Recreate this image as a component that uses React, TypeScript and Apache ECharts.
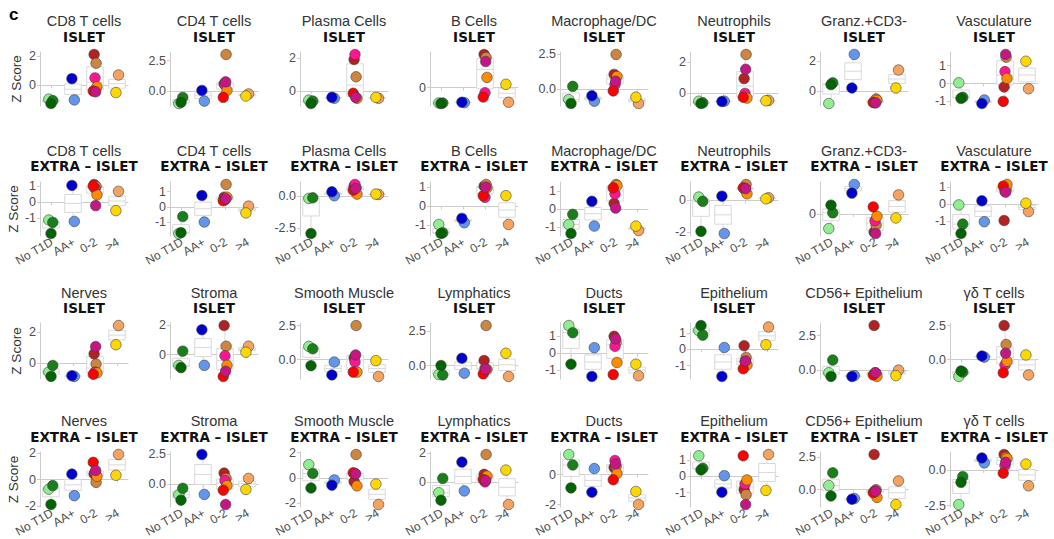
import React, { useEffect, useRef } from "react";
import * as echarts from "echarts";

// ---- categories / labels ----
const groupLabels = ["No T1D", "AA+", "0-2", ">4"];
// donor order: lightgreen, green, darkgreen | cornflower, mediumblue | firebrick, peru, deeppink, darkorange, red, mediumvioletred | sandybrown, gold
const donorGroup = [0, 0, 0, 1, 1, 2, 2, 2, 2, 2, 2, 3, 3];
const donorColors = ["#90EE90", "#1a7f1a", "#006400", "#6495ED", "#0000CD", "#B22222", "#CD853F", "#FF1493", "#FF8C00", "#FF0000", "#C71585", "#F4A460", "#FFD700"];
const donorJitter = [-0.1, 0.08, 0.0, 0.06, -0.05, -0.04, 0.05, 0.0, 0.09, -0.08, 0.03, 0.07, -0.05];

const row1Cells = ["CD8 T cells", "CD4 T cells", "Plasma Cells", "B Cells", "Macrophage/DC", "Neutrophils", "Granz.+CD3-", "Vasculature"];
const row3Cells = ["Nerves", "Stroma", "Smooth Muscle", "Lymphatics", "Ducts", "Epithelium", "CD56+ Epithelium", "γδ T cells"];
const regionLabels = ["ISLET", "EXTRA – ISLET"];

// ---- values (Z scores) per panel ----
const cd8Islet = [-0.95, -1.05, -1.25, -1.0, 0.45, 2.1, 1.5, 0.5, -0.1, -0.4, -0.45, 0.7, -0.5];
const cd4Islet = [-1.05, -0.55, -0.95, -0.85, 0.03, 0.57, 3.0, 0.5, 0.03, -0.54, 0.74, -0.26, -0.43];
const plasmaIslet = [-0.57, -0.63, -0.78, -0.46, -0.4, 1.92, 0.86, 2.23, -0.46, -0.15, -0.4, -0.46, -0.4];
const bIslet = [-0.82, -0.82, -0.85, -0.8, -0.78, 1.78, 1.62, -0.27, 0.55, -0.5, 1.4, -0.78, 0.18];
const macroIslet = [-0.78, 0.18, -1.07, -0.9, -0.5, 1.05, 2.5, 0.3, 0.9, -0.15, 0.55, -1.07, -0.6];
const neutroIslet = [-0.5, -0.6, -0.65, -0.5, -0.52, 0.95, 2.5, 0.0, -0.3, -0.25, 1.55, -0.45, -0.47];
const granzIslet = [-0.87, 0.54, 0.42, 2.47, 0.19, -0.75, -0.56, -0.82, -0.64, -0.8, -0.82, 1.41, 0.19];
const vascIslet = [0.04, -0.77, -0.83, -0.92, -1.12, -0.19, 1.48, 0.67, 0.29, -1.0, 1.63, -0.29, 1.25];

const cd8Extra = [-1.1, -1.25, -1.94, -1.19, 1.04, 1.1, 0.98, 0.85, 0.46, 1.0, -0.21, 0.67, -0.52];
const cd4Extra = [-1.76, -0.64, -1.7, -1.0, 0.75, 0.64, 1.48, 0.47, 0.64, 0.4, 0.54, 0.05, -0.4];
const plasmaExtra = [-0.18, -0.13, -2.95, 0.03, 0.34, 0.79, 0.66, 0.92, 0.16, 0.47, 0.6, 0.13, 0.16];
const bExtra = [-0.95, -1.39, -1.43, -0.86, -0.63, 1.07, 1.16, 0.48, 0.98, 0.57, 1.02, -0.95, 0.57];
const macroExtra = [-0.86, -0.29, -1.37, -0.95, 0.44, 0.32, 1.39, 0.86, 1.33, 1.2, 0.06, -1.2, -0.95];
const neutroExtra = [0.21, -0.06, -1.96, -2.1, 0.27, 0.78, 1.01, 0.69, 0.42, 0.8, 0.75, 0.17, 0.1];
const granzExtra = [-0.92, 0.06, 0.54, 1.83, 1.29, -1.14, -0.71, -0.43, -0.15, 0.43, -1.23, 1.18, -0.26];
const vascExtra = [-0.04, -1.16, -1.71, -1.02, 0.2, -0.95, 0.85, 0.75, 1.15, 1.05, 0.7, -0.43, 0.06];

const nervesIslet = [-0.59, -0.16, -0.87, -0.87, -0.82, 0.59, -0.07, -0.59, -0.64, -0.73, 1.06, 2.42, 1.18];
const stromaIslet = [-0.71, 0.24, -0.86, -0.71, 1.67, 1.95, 0.57, -0.07, -0.71, -1.45, -1.1, 0.57, 0.17];
const smoothIslet = [0.97, 0.79, -0.45, -0.18, -1.13, 0.13, 2.5, -0.18, -0.92, -0.92, 0.34, -1.24, -0.08];
const lymphIslet = [-0.66, -0.69, 0.0, -0.56, 0.53, 0.37, 2.93, -0.21, -0.29, -0.61, -0.27, -0.8, 0.9];
const ductsIslet = [1.64, 1.22, -0.63, 0.34, -1.35, 1.01, 0.65, 0.42, -0.53, -1.24, 0.86, -1.31, -0.63];
const epiIslet = [1.15, 0.87, 1.46, 0.11, -1.67, 0.22, -0.5, -0.76, -0.98, -1.2, -0.72, 1.37, 0.28];
const cd56Islet = [-0.19, 0.73, -0.46, -0.4, -0.46, 3.23, -0.27, -0.19, -0.46, -0.35, -0.19, 0.0, -0.4];
const gdIslet = [-1.24, -0.92, -0.84, 0.18, 0.26, 2.5, 1.11, -0.39, -0.13, -0.97, 0.47, -1.13, 0.34];

const nervesExtra = [-0.73, -0.46, -1.89, -1.22, 0.41, 0.41, -0.22, 0.54, 0.24, 1.3, 0.68, 1.89, 0.32];
const stromaExtra = [-0.88, -0.35, -1.32, -0.85, 2.44, 0.91, 0.47, 0.29, -0.12, -0.5, -1.68, 0.47, -0.44];
const smoothExtra = [1.06, 0.36, -0.78, -0.14, -0.56, -0.28, 1.86, 0.36, -0.61, 0.42, 0.33, -2.08, -0.47];
const lymphExtra = [-0.74, 0.24, -1.26, -0.62, 1.36, 0.52, 1.88, 0.0, 0.4, 0.17, 0.1, -1.55, 0.81];
const ductsExtra = [1.34, 0.64, -0.89, 0.4, -1.18, 0.47, 0.54, 0.94, 0.07, -0.35, 0.71, -2.0, -1.13];
const epiExtra = [1.25, 0.49, 0.39, 0.04, -0.97, -0.82, -1.12, -0.47, -0.22, 1.25, -1.72, 1.33, -0.86];
const cd56Extra = [0.32, 1.29, -0.48, -0.67, -0.73, 2.69, 0.0, -0.08, -0.59, -0.22, -0.13, 0.67, -1.13];
const gdExtra = [-2.43, -0.48, -0.88, 0.48, 0.83, 1.07, 0.88, 0.29, 0.79, -0.24, 0.52, -1.12, 0.4];

// ---- y tick labels per row ----
const row1Ticks = [[0, 2], [0, 2.5], [0, 2], [0, 2], [0, 2.5], [0, 2], [0, 2], [-1, 0, 1]];
const row2Ticks = [[-1, 0, 1], [-1, 0, 1], [-2.5, 0], [-1, 0, 1], [-1, 0, 1], [-2, 0], [0, 2], [-1, 0, 1]];
const row3Ticks = [[0, 2], [0, 2], [0, 2.5], [0, 2.5], [-1, 0, 1], [-1, 0, 1], [0, 2.5], [0, 2.5]];
const row4Ticks = [[-2, 0, 2], [0, 2.5], [-2, 0, 2], [0, 2], [-2, 0], [-1, 0, 1], [0, 2.5], [-2.5, 0]];

const rowValues = [
  [cd8Islet, cd4Islet, plasmaIslet, bIslet, macroIslet, neutroIslet, granzIslet, vascIslet],
  [cd8Extra, cd4Extra, plasmaExtra, bExtra, macroExtra, neutroExtra, granzExtra, vascExtra],
  [nervesIslet, stromaIslet, smoothIslet, lymphIslet, ductsIslet, epiIslet, cd56Islet, gdIslet],
  [nervesExtra, stromaExtra, smoothExtra, lymphExtra, ductsExtra, epiExtra, cd56Extra, gdExtra],
];
const rowTicks = [row1Ticks, row2Ticks, row3Ticks, row4Ticks];

// ---- layout / style ----
const PLOT_LEFT0 = 40;
const PLOT_STEP = 130;
const PLOT_W = 88;
const ROW_TOPS = [52, 182, 323, 452];
const ROW_HEIGHTS = [54, 54, 56, 55];
const TITLE_Y1 = [20.5, 151, 292.5, 421];
const TITLE_Y2 = [37, 166, 308, 436.5];
const SANS = "'Liberation Sans', Arial, sans-serif";
const AXIS_GREY = "#cccccc";
const BOX_GREY = "#d9d9d9";
const BOX_WIDTH = 0.75;
const XLABEL_ROTATE = Math.PI / 6;

function quantile(sorted: number[], p: number) {
  const h = (sorted.length - 1) * p;
  const lo = Math.floor(h);
  const hi = Math.ceil(h);
  return sorted[lo] + (h - lo) * (sorted[hi] - sorted[lo]);
}

function boxStats(vals: number[]) {
  const s = [...vals].sort((a, b) => a - b);
  const q1 = quantile(s, 0.25);
  const med = quantile(s, 0.5);
  const q3 = quantile(s, 0.75);
  const iqr = q3 - q1;
  const lo = Math.min(...s.filter((v) => v >= q1 - 1.5 * iqr));
  const hi = Math.max(...s.filter((v) => v <= q3 + 1.5 * iqr));
  return [lo, q1, med, q3, hi];
}

function yRange(values: number[]) {
  const dMin = Math.min(...values);
  const dMax = Math.max(...values);
  const span = dMax - dMin;
  return [dMin - 0.05 * span, dMax + 0.05 * span];
}

function buildOption() {
  const grid: any[] = [];
  const xAxis: any[] = [];
  const yAxis: any[] = [];
  const series: any[] = [];
  const elements: any[] = [];

  elements.push({
    type: "text",
    x: 9,
    y: 14,
    style: { text: "c", fill: "#000", font: `bold 17px ${SANS}`, textAlign: "left", textVerticalAlign: "middle" },
  });

  for (let r = 0; r < 4; r++) {
    for (let c = 0; c < 8; c++) {
      const idx = r * 8 + c;
      const values = rowValues[r][c];
      const ticks = rowTicks[r][c];
      const cellName = r < 2 ? row1Cells[c] : row3Cells[c];
      const region = regionLabels[r % 2];
      const left = PLOT_LEFT0 + PLOT_STEP * c;
      const cx = left + PLOT_W / 2;

      grid.push({ left, top: ROW_TOPS[r], width: PLOT_W, height: ROW_HEIGHTS[r], containLabel: false });

      xAxis.push({
        gridIndex: idx,
        type: "value",
        min: 0.5,
        max: 4.5,
        splitLine: { show: false },
        axisLine: { show: true, lineStyle: { color: AXIS_GREY, width: 1 } },
        axisTick: { show: true, length: 3, customValues: [1, 2, 3, 4], lineStyle: { color: AXIS_GREY } },
        axisLabel: { show: false },
      });

      const [yMin, yMax] = yRange(values);
      const decimals = ticks.some((t) => !Number.isInteger(t)) ? 1 : 0;
      yAxis.push({
        gridIndex: idx,
        type: "value",
        min: yMin,
        max: yMax,
        splitLine: { show: false },
        axisLine: { show: true, lineStyle: { color: AXIS_GREY, width: 1 } },
        axisTick: { show: true, length: 3, customValues: ticks, lineStyle: { color: AXIS_GREY } },
        axisLabel: {
          customValues: ticks,
          formatter: (v: number) => v.toFixed(decimals),
          margin: 4,
          showMinLabel: true,
          showMaxLabel: true,
          fontSize: 12.5,
          fontFamily: SANS,
          color: "#4d4d4d",
        },
        name: c === 0 ? "Z Score" : "",
        nameLocation: "middle",
        nameGap: 17,
        nameTextStyle: { fontSize: 13.5, fontFamily: SANS, color: "#333" },
      });

      // boxes
      const boxData = groupLabels.map((_, g) => {
        const gv = values.filter((_, d) => donorGroup[d] === g);
        return [g + 1, ...boxStats(gv)];
      });
      series.push({
        type: "custom",
        xAxisIndex: idx,
        yAxisIndex: idx,
        z: 1,
        silent: true,
        data: boxData,
        encode: { x: 0, y: [1, 2, 3, 4, 5] },
        renderItem: (params: any, api: any) => {
          const x = api.value(0);
          const pLo = api.coord([x, api.value(1)]);
          const pQ1 = api.coord([x, api.value(2)]);
          const pMd = api.coord([x, api.value(3)]);
          const pQ3 = api.coord([x, api.value(4)]);
          const pHi = api.coord([x, api.value(5)]);
          const half = api.size([BOX_WIDTH, 0])[0] / 2;
          const st = { stroke: BOX_GREY, lineWidth: 1, fill: "none" };
          return {
            type: "group",
            children: [
              { type: "line", shape: { x1: pLo[0], y1: pLo[1], x2: pQ1[0], y2: pQ1[1] }, style: st },
              { type: "line", shape: { x1: pQ3[0], y1: pQ3[1], x2: pHi[0], y2: pHi[1] }, style: st },
              {
                type: "rect",
                shape: { x: pQ3[0] - half, y: pQ3[1], width: half * 2, height: pQ1[1] - pQ3[1] },
                style: { stroke: BOX_GREY, lineWidth: 1, fill: "#ffffff" },
              },
              { type: "line", shape: { x1: pMd[0] - half, y1: pMd[1], x2: pMd[0] + half, y2: pMd[1] }, style: st },
            ],
          };
        },
      });

      // points
      series.push({
        type: "scatter",
        xAxisIndex: idx,
        yAxisIndex: idx,
        z: 2,
        symbol: "circle",
        symbolSize: 10.5,
        silent: true,
        data: values.map((v, d) => ({
          value: [donorGroup[d] + 1 + donorJitter[d], v],
          itemStyle: { color: donorColors[d], borderColor: "#3c3c3c", borderWidth: 0.6, opacity: 1 },
        })),
      });

      elements.push({
        type: "text",
        x: cx,
        y: TITLE_Y1[r],
        style: { text: cellName, fill: "#333", font: `14.5px ${SANS}`, textAlign: "center", textVerticalAlign: "middle" },
      });
      elements.push({
        type: "text",
        x: cx,
        y: TITLE_Y2[r],
        style: { text: region, fill: "#111", font: `bold 13.5px 'DejaVu Sans', sans-serif`, textAlign: "center", textVerticalAlign: "middle" },
      });
    }
  }

  return {
    animation: false,
    backgroundColor: "#ffffff",
    grid,
    xAxis,
    yAxis,
    series,
    graphic: { elements },
  };
}

export default function App() {
  const ref = useRef<HTMLDivElement>(null);
  useEffect(() => {
    if (!ref.current) return;
    const chart = echarts.init(ref.current, null, { renderer: "svg" });
    const option: any = buildOption();
    chart.setOption(option);

    // rotated category labels under the EXTRA – ISLET rows, placed through the axes' own scales
    const labelEls: any[] = [];
    for (let r = 1; r < 4; r += 2) {
      for (let c = 0; c < 8; c++) {
        const idx = r * 8 + c;
        const [yMin] = yRange(rowValues[r][c]);
        groupLabels.forEach((lab, g) => {
          const p = chart.convertToPixel({ gridIndex: idx } as any, [g + 1, yMin]) as number[];
          labelEls.push({
            type: "text",
            x: p[0] + 1,
            y: p[1] + 5,
            rotation: XLABEL_ROTATE,
            style: {
              text: lab,
              fill: "#4d4d4d",
              font: `12px ${SANS}`,
              textAlign: "right",
              textVerticalAlign: "middle",
            },
          });
        });
      }
    }
    chart.setOption({ graphic: { elements: [...option.graphic.elements, ...labelEls] } });
    return () => chart.dispose();
  }, []);
  return <div ref={ref} style={{ position: "fixed", left: 0, top: 0, width: 1054, height: 539, background: "#fff" }} />;
}
